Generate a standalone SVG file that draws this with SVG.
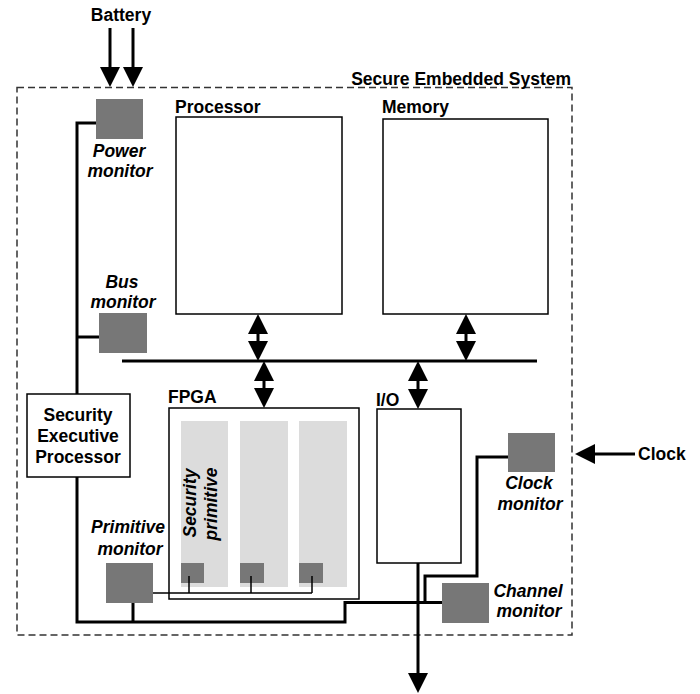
<svg xmlns="http://www.w3.org/2000/svg" width="700" height="694" viewBox="0 0 700 694">
<style>
text{font-family:"Liberation Sans",Arial,sans-serif;font-weight:bold;font-size:17.5px;fill:#000}
.it{font-style:italic}
.mid{text-anchor:middle}
.box{fill:#fff;stroke:#000;stroke-width:1.5}
.mon{fill:#777}
.col{fill:#dcdcdc}
.w{fill:none;stroke:#000;stroke-width:3}
.thin{fill:none;stroke:#000;stroke-width:1.5}
.arr{fill:none;stroke:#000;stroke-width:3;marker-end:url(#ah)}
.darr{fill:none;stroke:#000;stroke-width:3;marker-start:url(#ah);marker-end:url(#ah)}
</style>
<defs>
<marker id="ah" markerUnits="userSpaceOnUse" markerWidth="20" markerHeight="20" refX="14" refY="10" orient="auto-start-reverse" viewBox="0 0 20 20">
<path d="M0,0 L20,10 L0,20 z" fill="#000"/>
</marker>
</defs>
<rect width="700" height="694" fill="#fff"/>

<g id="system">
<rect x="17" y="87.5" width="555" height="547.5" fill="none" stroke="#333" stroke-width="1.5" stroke-dasharray="7,4"/>
<text x="571" y="85" text-anchor="end">Secure Embedded System</text>
</g>

<g id="battery"><text x="121" y="21" class="mid">Battery</text></g>
<g id="clock"><text x="638" y="460">Clock</text></g>

<g id="processor">
<rect class="box" x="176" y="117" width="166" height="197"/>
<text x="175" y="113">Processor</text>
</g>
<g id="memory">
<rect class="box" x="383" y="119" width="165" height="195"/>
<text x="382" y="113">Memory</text>
</g>
<g id="fpga">
<rect class="box" x="169" y="408" width="190" height="191"/>
<text x="168" y="403">FPGA</text>
<rect class="col" x="181" y="421" width="47" height="166"/>
<rect class="col" x="240" y="421" width="48" height="166"/>
<rect class="col" x="299" y="421" width="48" height="166"/>
<text class="it mid" transform="translate(196,503) rotate(-90)">Security</text>
<text class="it mid" transform="translate(217,504) rotate(-90)">primitive</text>
<rect class="mon" x="181" y="563" width="23" height="20"/>
<rect class="mon" x="240" y="563" width="24" height="20"/>
<rect class="mon" x="299" y="563" width="24" height="20"/>
</g>
<g id="io">
<rect class="box" x="377" y="409" width="84" height="154"/>
<text x="376" y="406">I/O</text>
</g>

<g id="connectors">
<path class="arr" d="M110,28 V81"/>
<path class="arr" d="M133,28 V81"/>
<path class="arr" d="M635,454 H581"/>
<path class="w" d="M122,361 H537"/>
<path class="darr" d="M258,320 V355"/>
<path class="darr" d="M466,320 V355"/>
<path class="darr" d="M264,367 V402"/>
<path class="darr" d="M418,367 V403"/>
<path class="arr" d="M418,563 V687"/>
<path class="w" d="M96,123 H77 V622 H345 V602.5 H442"/>
<path class="w" d="M77,337 H99"/>
<path class="w" d="M133,603 V622"/>
<path class="w" d="M508,457 H477 V576 H425 V602"/>
<path class="thin" d="M153,593 H312 M189,576 V593 M251,576 V593 M312,576 V593"/>
</g>

<g id="power-monitor">
<rect class="mon" x="96" y="99" width="47" height="40"/>
<text class="it mid" x="119" y="157">Power</text>
<text class="it mid" x="120" y="177">monitor</text>
</g>
<g id="bus-monitor">
<rect class="mon" x="99" y="313" width="48" height="40"/>
<text class="it mid" x="122" y="288">Bus</text>
<text class="it mid" x="123" y="308">monitor</text>
</g>
<g id="sep">
<rect class="box" x="27" y="394" width="103" height="83"/>
<text class="mid" x="78" y="421">Security</text>
<text class="mid" x="78" y="442">Executive</text>
<text class="mid" x="78" y="463">Processor</text>
</g>
<g id="primitive-monitor">
<rect class="mon" x="106" y="563" width="47" height="40"/>
<text class="it mid" x="128" y="533">Primitive</text>
<text class="it mid" x="130" y="555">monitor</text>
</g>
<g id="clock-monitor">
<rect class="mon" x="508" y="433" width="47" height="39"/>
<text class="it mid" x="529" y="489">Clock</text>
<text class="it mid" x="530" y="510">monitor</text>
</g>
<g id="channel-monitor">
<rect class="mon" x="442" y="583" width="47" height="40"/>
<text class="it mid" x="528" y="597">Channel</text>
<text class="it mid" x="529" y="617">monitor</text>
</g>
</svg>
